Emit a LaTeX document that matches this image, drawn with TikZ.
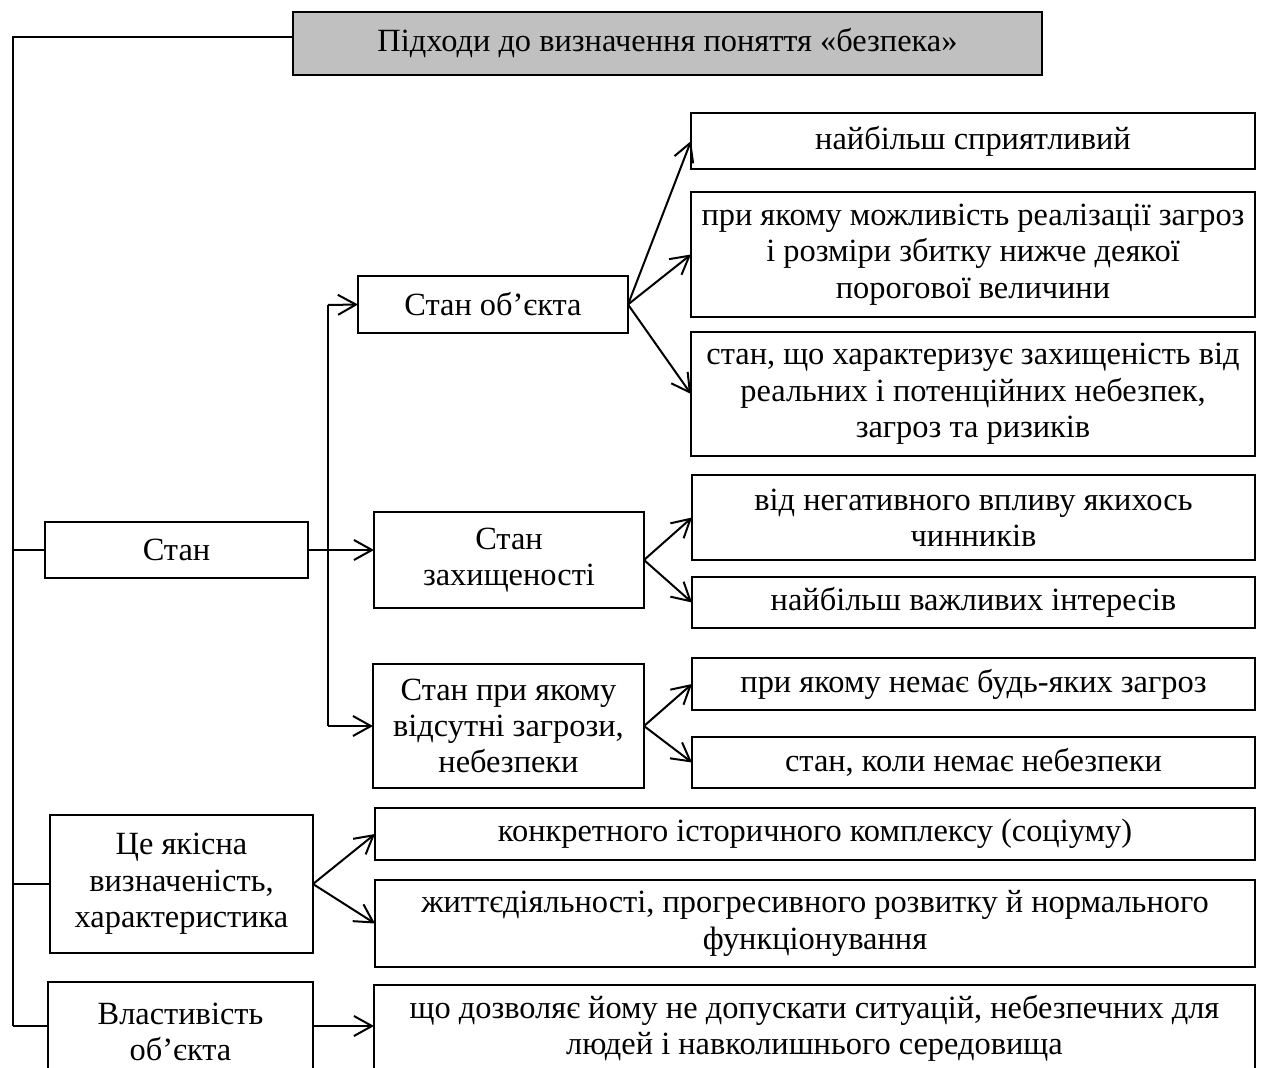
\documentclass[tikz,border=0pt]{standalone}
\usepackage{fontspec}
\setmainfont{Liberation Serif}
\usetikzlibrary{arrows.meta}

% box given by its left, top, right and bottom edges (in px units)
\newcommand\rbox[7][]{%
  \pgfmathsetmacro\bw{(#5-#3)*0.5}%
  \pgfmathsetmacro\bh{(#6-#4)*0.5}%
  \node[box,#1,minimum width=\bw pt,minimum height=\bh pt]
    (#2) at ({(#3+#5)/2},{(#4+#6)/2}) {#7};}

\begin{document}
\begin{tikzpicture}[x=0.5pt,y=-0.5pt,
  box/.style={draw,line width=1pt,inner sep=0pt,outer sep=0pt,align=center,
    font=\fontsize{16.2}{18.2}\selectfont},
  wire/.style={line width=1pt},
  arr/.style={wire,-{Straight Barb[length=9pt,width=10pt,line width=1pt]}}]
\useasboundingbox (0,0) rectangle (1261,1068);
\clip (0,0) rectangle (1261,1068);

% heading
\rbox[fill={rgb,255:red,192;green,192;blue,192}]{title}{293}{12}{1042}{75}{Підходи до визначення поняття «безпека»}

% first level
\rbox{stan}{45}{522}{308}{578}{Стан}
\rbox{yak}{50}{815}{313}{953}{Це якісна\\визначеність,\\характеристика}
\rbox{vl}{48}{982}{313}{1082}{Властивість\\об’єкта}

% second level
\rbox{so}{358}{276}{628}{333}{Стан об’єкта}
\rbox{sz}{374}{512}{644}{608}{Стан\\захищеності}
\rbox{sp}{373}{664}{644}{788}{Стан при якому\\відсутні загрози,\\небезпеки}

% leaves
\rbox{n1}{691}{113}{1255}{169}{найбільш сприятливий}
\rbox{n2}{691}{192}{1255}{317}{при якому можливість реалізації загроз\\і розміри збитку нижче деякої\\порогової величини}
\rbox{n3}{691}{332}{1255}{456}{стан, що характеризує захищеність від\\реальних і потенційних небезпек,\\загроз та ризиків}
\rbox{z1}{692}{475}{1255}{560}{від негативного впливу якихось\\чинників}
\rbox{z2}{692}{577}{1255}{628}{найбільш важливих інтересів}
\rbox{p1}{692}{658}{1255}{710}{при якому немає будь-яких загроз}
\rbox{p2}{692}{737}{1255}{788}{стан, коли немає небезпеки}
\rbox{k1}{375}{808}{1255}{860}{конкретного історичного комплексу (соціуму)}
\rbox{k2}{375}{880}{1255}{967}{життєдіяльності, прогресивного розвитку й нормального\\функціонування}
\rbox{w1}{374}{985}{1255}{1072}{що дозволяє йому не допускати ситуацій, небезпечних для\\людей і навколишнього середовища}

% left trunk
\coordinate (tk1) at (13,37);
\coordinate (tk2) at (13,1026);
\draw[wire] (tk1 -| title.west) -- (tk1) -- (tk2);
\draw[wire] (stan.west) -- (stan.west -| tk1);
\draw[wire] (yak.west) -- (yak.west -| tk1);
\draw[wire] (vl.west |- tk2) -- (tk2);

% bus of the "Стан" branch
\coordinate (b1) at (328,305);
\coordinate (b2) at (328,726);
\draw[arr] (stan.east) -- (stan.east -| sz.west);
\draw[wire] (b1) -- (b2);
\draw[arr] (b1) -- (so.west);
\draw[arr] (b2) -- (sp.west);

% fans to the leaves
\draw[arr] (so.east) -- (n1.west);
\draw[arr] (so.east) -- (n2.west);
\draw[arr] (so.east) -- (n3.west);
\draw[arr] (sz.east) -- (z1.west);
\draw[arr] (sz.east) -- (z2.west);
\draw[arr] (sp.east) -- (p1.west);
\draw[arr] (sp.east) -- (p2.west);
\draw[arr] (yak.east) -- (k1.west);
\draw[arr] (yak.east) -- (k2.west);
\draw[arr] (vl.east |- tk2) -- (w1.west |- tk2);
\end{tikzpicture}
\end{document}
